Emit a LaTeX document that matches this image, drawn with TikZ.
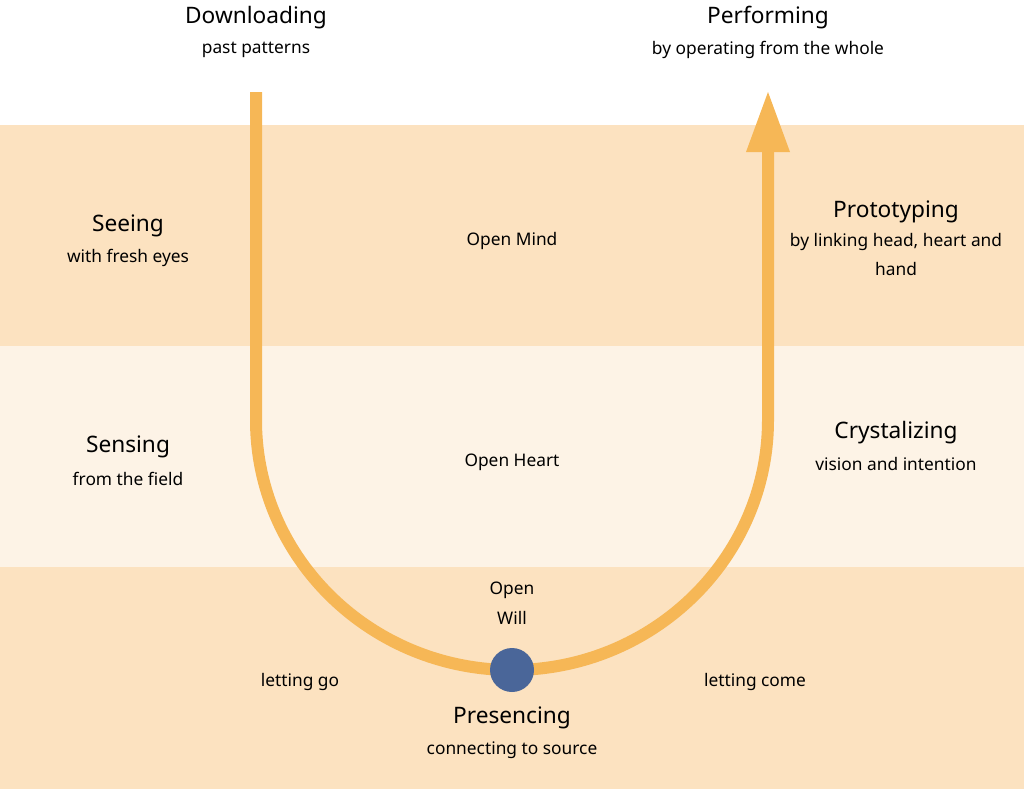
\documentclass[tikz,border=0pt]{standalone}
\usepackage{fontspec}
\setmainfont{Noto Sans}
\begin{document}
\begin{tikzpicture}[x=0.75pt,y=-0.75pt,
  ttl/.style={font=\fontsize{17}{20}\selectfont,inner sep=0pt},
  sub/.style={font=\fontsize{13}{22}\selectfont,inner sep=0pt,align=center}]
\definecolor{bandA}{HTML}{FCE2C0}
\definecolor{bandB}{HTML}{FDF3E6}
\definecolor{uor}{HTML}{F6B756}
\definecolor{dot}{HTML}{4A6699}
\useasboundingbox (0,0) rectangle (1024,789);
\fill[bandA] (0,125) rectangle (1024,346);
\fill[bandB] (0,346) rectangle (1024,567);
\fill[bandA] (0,567) rectangle (1024,789);
\coordinate (s) at (256,92);
\coordinate (bl) at (256,420);
\coordinate (b) at (512,670);
\coordinate (br) at (768,420);
\coordinate (e) at (768,152);
\coordinate (tip) at (768,92);
\draw[uor,line width=9pt] (s) -- (bl) .. controls (256,558) and (371,670) .. (b)
  .. controls (653,670) and (768,558) .. (br) -- (e);
\fill[uor] (746,152) -- (tip) -- (790,152) -- cycle;
\fill[dot] (b) circle (22);
\node[ttl] (dl) at (256,18) {Downloading};
\node[sub] (dls) at (256,50) {past patterns};
\node[ttl] (pf) at (768,18) {Performing};
\node[sub] (pfs) at (768,50) {by operating from the whole};
\node[ttl] (se) at (128,226) {Seeing};
\node[sub] (ses) at (128,258) {with fresh eyes};
\node[sub] (om) at (512,241) {Open Mind};
\node[ttl] (pr) at (896,212) {Prototyping};
\node[sub,anchor=north] (prs) at (896,233) {by linking head, heart and\\hand};
\node[ttl] (sn) at (128,447) {Sensing};
\node[sub] (sns) at (128,479) {from the field};
\node[sub] (oh) at (512,462) {Open Heart};
\node[ttl] (cr) at (896,433) {Crystalizing};
\node[sub] (crs) at (896,464) {vision and intention};
\node[sub,anchor=north] (ow) at (512,582) {Open\\Will};
\node[sub] (lg) at (300,682) {letting go};
\node[sub] (lc) at (755,682) {letting come};
\node[ttl] (ps) at (512,718) {Presencing};
\node[sub] (pss) at (512,750) {connecting to source};
\end{tikzpicture}
\end{document}
